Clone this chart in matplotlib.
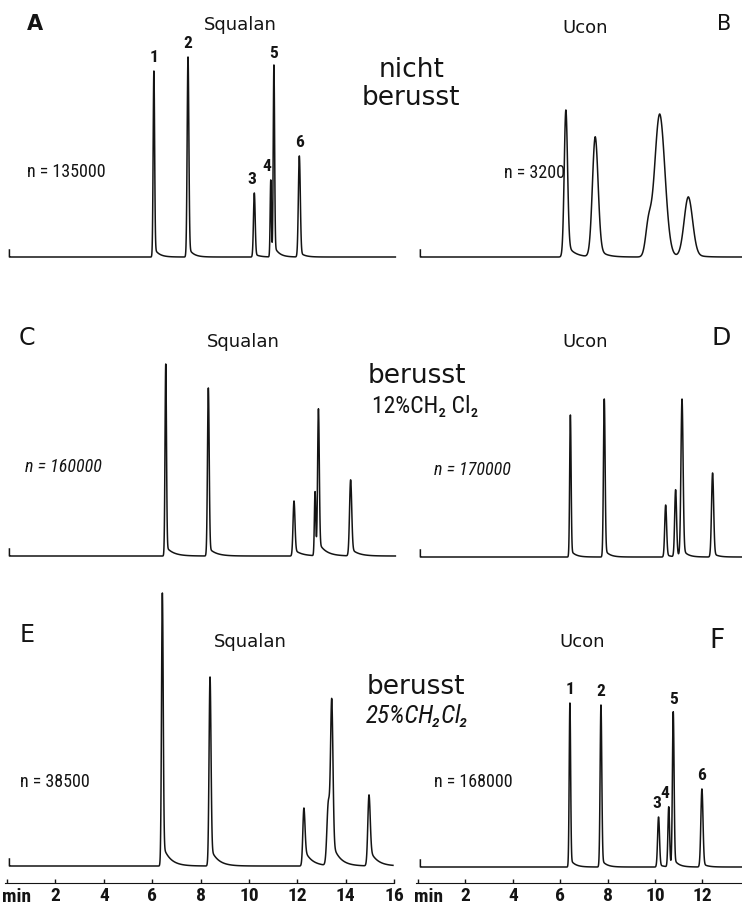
import numpy as np
import matplotlib
matplotlib.use('Agg')
import matplotlib.pyplot as plt
from matplotlib import font_manager

# Gas chromatograms, retention time in min, peak heights in arbitrary detector units
# left column = Squalan, right column = Ucon

A_TIME = [6.07, 7.48, 10.22, 10.90, 11.03, 12.08]
A_HEIGHT = [186, 200, 64, 77, 190, 101]
A_SIGMA = [0.03, 0.035, 0.035, 0.025, 0.028, 0.04]
A_TAIL = [0.05, 0.05, 0.05, 0.05, 0.05, 0.05]

B_TIME = [6.24, 7.48, 9.72, 10.20, 11.41]
B_HEIGHT = [147, 120, 28, 143, 60]
B_SIGMA = [0.07, 0.12, 0.12, 0.22, 0.18]
B_TAIL = [0.1, 0.1, 0.0, 0.05, 0.1]

C_TIME = [6.56, 8.32, 11.86, 12.73, 12.87, 14.20]
C_HEIGHT = [192, 168, 55, 64, 145, 76]
C_SIGMA = [0.03, 0.035, 0.04, 0.028, 0.035, 0.045]
C_TAIL = [0.05, 0.05, 0.12, 0.05, 0.08, 0.1]

D_TIME = [6.43, 7.86, 10.45, 10.87, 11.14, 12.43]
D_HEIGHT = [142, 158, 52, 67, 157, 84]
D_SIGMA = [0.03, 0.035, 0.04, 0.04, 0.045, 0.045]
D_TAIL = [0.05, 0.05, 0.05, 0.05, 0.05, 0.05]

E_TIME = [6.42, 8.39, 12.27, 13.28, 13.42, 14.96]
E_HEIGHT = [273, 189, 58, 62, 163, 71]
E_SIGMA = [0.035, 0.04, 0.045, 0.06, 0.05, 0.05]
E_TAIL = [0.08, 0.1, 0.3, 0.0, 0.15, 0.25]

F_TIME = [6.41, 7.72, 10.15, 10.58, 10.77, 11.98]
F_HEIGHT = [164, 162, 50, 60, 154, 78]
F_SIGMA = [0.03, 0.035, 0.04, 0.035, 0.035, 0.045]
F_TAIL = [0.05, 0.05, 0.05, 0.05, 0.05, 0.05]

PEAK_LABELS = ['1', '2', '3', '4', '5', '6']
PLATES = ['135000', '3200', '160000', '170000', '38500', '168000']
LEFT_TICKS = [2, 4, 6, 8, 10, 12, 14, 16]
RIGHT_TICKS = [2, 4, 6, 8, 10, 12]

plt.rcParams['path.simplify'] = False

W, H = 742, 916
fig = plt.figure(figsize=(W / 100, H / 100), dpi=100)
fig.patch.set_facecolor('white')

names = {f.name for f in font_manager.fontManager.ttflist}
NARROW = ['DejaVu Sans']
for cand in ['Liberation Sans Narrow', 'Roboto Condensed', 'Open Sans Condensed']:
    if cand in names:
        NARROW = [cand, 'DejaVu Sans']
        break
NK = dict(family=NARROW, fontstretch='condensed')
INK = '#141414'

# pixel layout: column (x0, x1, pixel of t=0, pixel per min)
LEFT = (0, 405, 7, 24.2)
RIGHT = (405, 742, 418, 23.7)


def trace(t, times, heights, sigmas, tails, tau):
    y = np.zeros_like(t)
    for t0, h, s, f in zip(times, heights, sigmas, tails):
        g = np.exp(-0.5 * ((t - t0) / s) ** 2)
        tail = np.where(t >= t0, np.exp(-(t - t0) / tau), g)
        y += h * ((1 - f) * g + f * tail)
    return y


def panel(col, y0, y1, base, times, heights, sigmas, tails, tau, t_end, labels=False):
    x0, x1, tz, ppm = col
    ax = fig.add_axes([x0 / W, 1 - y1 / H, (x1 - x0) / W, (y1 - y0) / H])
    ax.set_xlim((x0 - tz) / ppm, (x1 - tz) / ppm)
    ax.set_ylim(-(y1 - base), base - y0)
    ax.axis('off')
    t = np.arange(0.1, t_end, 0.002)
    y = trace(t, times, heights, sigmas, tails, tau)
    ax.plot(np.r_[t[0], t], np.r_[7, y], color=INK, lw=1.1)
    if labels:
        for lab, tt, hh in zip(PEAK_LABELS, times, heights):
            dx = {'3': -1.5, '4': -2.5}.get(lab, 0)
            ax.annotate(lab, (tt, hh), xytext=(dx, 4), textcoords='offset points',
                        ha='center', va='bottom', fontsize=12.5, fontweight='bold',
                        color=INK, **NK)
    return ax


def ptxt(x, y, s, **kw):
    kw.setdefault('ha', 'center')
    kw.setdefault('va', 'baseline')
    kw.setdefault('color', INK)
    fig.text(x / W, 1 - y / H, s, **kw)


panel(LEFT, 0, 290, 257, A_TIME, A_HEIGHT, A_SIGMA, A_TAIL, 0.2, 16.05, labels=True)
panel(RIGHT, 0, 290, 257, B_TIME, B_HEIGHT, B_SIGMA, B_TAIL, 0.3, 13.7)
panel(LEFT, 290, 580, 556, C_TIME, C_HEIGHT, C_SIGMA, C_TAIL, 0.3, 16.05)
panel(RIGHT, 290, 580, 557, D_TIME, D_HEIGHT, D_SIGMA, D_TAIL, 0.2, 13.7)
panel(LEFT, 580, 880, 866, E_TIME, E_HEIGHT, E_SIGMA, E_TAIL, 0.3, 15.95)
panel(RIGHT, 580, 880, 867, F_TIME, F_HEIGHT, F_SIGMA, F_TAIL, 0.2, 13.7, labels=True)

# time axes at the bottom
for col, ticks, end, min_x in [(LEFT, LEFT_TICKS, 16.0, 17), (RIGHT, RIGHT_TICKS, 13.67, 429)]:
    x0, x1, tz, ppm = col
    ax = fig.add_axes([x0 / W, 1 - 883 / H, (x1 - x0) / W, 20 / H])
    ax.set_xlim((x0 - tz) / ppm, (x1 - tz) / ppm)
    ax.set_yticks([])
    for s in ['top', 'left', 'right']:
        ax.spines[s].set_visible(False)
    ax.spines['bottom'].set_bounds(-0.08, end)
    ax.spines['bottom'].set_color(INK)
    ax.patch.set_alpha(0)
    ax.set_xticks([0] + ticks)
    ax.set_xticklabels([''] + [str(v) for v in ticks], fontweight='bold',
                       fontsize=14, color=INK, **NK)
    ax.tick_params(axis='x', direction='in', length=3, width=1, pad=3, colors=INK)
    ptxt(min_x, 902, 'min', fontweight='bold', fontsize=14, **NK)

# panel letters and titles
ptxt(35, 30, 'A', fontsize=15, fontweight='bold')
ptxt(724, 30, 'B', fontsize=15)
ptxt(27, 345, 'C', fontsize=17)
ptxt(721, 345, 'D', fontsize=18)
ptxt(27, 642, 'E', fontsize=17)
ptxt(717, 648, 'F', fontsize=19)

ptxt(240, 30, 'Squalan', fontsize=13)
ptxt(243, 347, 'Squalan', fontsize=13)
ptxt(250, 647, 'Squalan', fontsize=13)
ptxt(585, 33, 'Ucon', fontsize=13)
ptxt(585, 347, 'Ucon', fontsize=13)
ptxt(582, 647, 'Ucon', fontsize=13)

# conditions
ptxt(412, 77, 'nicht', fontsize=19)
ptxt(411, 105, 'berusst', fontsize=19)
ptxt(417, 383, 'berusst', fontsize=19)
ptxt(425, 413, '12%CH₂ Cl₂', fontsize=17, **NK)
ptxt(418, 723, '25%CH₂Cl₂', fontsize=18, style='italic', **NK)
ptxt(416, 694, 'berusst', fontsize=19)

# plate numbers
ptxt(27, 177, 'n = ' + PLATES[0], ha='left', fontsize=13, **NK)
ptxt(504, 178, 'n = ' + PLATES[1], ha='left', fontsize=13, **NK)
ptxt(25, 472, 'n = ' + PLATES[2], ha='left', fontsize=13, style='italic', **NK)
ptxt(434, 475, 'n = ' + PLATES[3], ha='left', fontsize=13, style='italic', **NK)
ptxt(20, 787, 'n = ' + PLATES[4], ha='left', fontsize=13, **NK)
ptxt(434, 787, 'n = ' + PLATES[5], ha='left', fontsize=13, **NK)

fig.savefig('out.png', dpi=100, facecolor='white')
